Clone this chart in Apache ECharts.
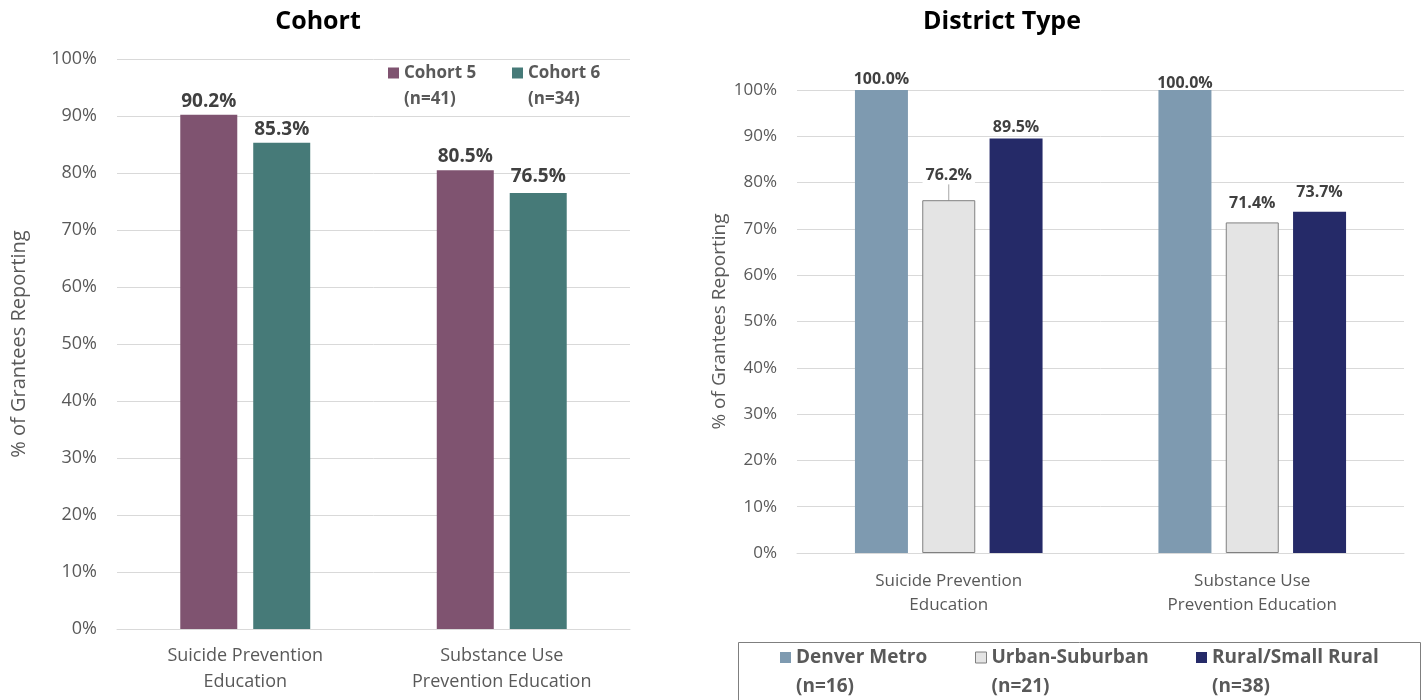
<!DOCTYPE html>
<html>
<head>
<meta charset="utf-8">
<script src="https://cdn.jsdelivr.net/npm/echarts@6/dist/echarts.min.js"></script>
<style>
  html, body { margin: 0; padding: 0; background: #ffffff; }
  #chart { width: 1424px; height: 700px; }
</style>
</head>
<body>
<div id="chart"></div>
<script>
// Shared categories
const categories = ['Suicide Prevention\nEducation', 'Substance Use\nPrevention Education'];

// Cohort panel
const cohortNames = ['Cohort 5', 'Cohort 6'];
const cohortN = ['(n=41)', '(n=34)'];
const cohort5 = [90.2, 80.5];
const cohort6 = [85.3, 76.5];

// District type panel
const districtNames = ['Denver Metro', 'Urban-Suburban', 'Rural/Small Rural'];
const districtN = ['(n=16)', '(n=21)', '(n=38)'];
const denverMetro = [100.0, 100.0];
const urbanSuburban = [76.2, 71.4];
const ruralSmall = [89.5, 73.7];

// Y axis ticks
const yTicks = [0, 10, 20, 30, 40, 50, 60, 70, 80, 90, 100];

const FONT = '"Open Sans", "Noto Sans", sans-serif';
const nLookup = {};
cohortNames.forEach((n, i) => { nLookup[n] = cohortN[i]; });
districtNames.forEach((n, i) => { nLookup[n] = districtN[i]; });

// Legend entry with a two-line caption; the leading blank line keeps the
// swatch level with the first caption line.
function legendFor(name, left, top, size, lh, stroke) {
  return {
    data: [{ name: name, icon: 'rect',
      itemStyle: stroke ? { borderColor: stroke, borderWidth: 1 } : undefined }],
    left: left, top: top,
    itemWidth: 11, itemHeight: 11, itemGap: 0, padding: 0,
    selectedMode: false,
    formatter: n => '\n' + n + '\n' + nLookup[n],
    textStyle: { fontFamily: FONT, fontSize: size, fontWeight: 'bold', color: '#595959', lineHeight: lh }
  };
}

function yAxisFor(gridIndex, nameGap, nameSize, fontSize) {
  return {
    type: 'value', gridIndex: gridIndex, min: 0, max: 100, interval: 10,
    name: '% of Grantees Reporting', nameLocation: 'middle', nameGap: nameGap,
    nameTextStyle: { fontFamily: FONT, fontSize: nameSize, color: '#595959' },
    axisLine: { show: false }, axisTick: { show: false },
    axisLabel: { fontFamily: FONT, fontSize: fontSize, color: '#595959', margin: 20,
      formatter: v => yTicks.indexOf(v) >= 0 ? v + '%' : '' },
    splitLine: { lineStyle: { color: '#d9d9d9', width: 1 } }
  };
}

function xAxisFor(gridIndex, fontSize, lh, margin) {
  return {
    type: 'category', gridIndex: gridIndex, data: categories,
    axisTick: { show: false },
    axisLine: { lineStyle: { color: '#d9d9d9', width: 1 } },
    axisLabel: { fontFamily: FONT, fontSize: fontSize, color: '#595959', lineHeight: lh, margin: margin }
  };
}

function labelStyle(size, distance) {
  return { show: true, position: 'top', distance: distance, fontFamily: FONT, fontSize: size,
    fontWeight: 'bold', color: '#404040', formatter: p => p.value.toFixed(1) + '%' };
}

// Value arrays -> bar data, with optional per-bar label gap above the bar
function withGaps(values, gaps) {
  return values.map((v, i) => gaps && gaps[i] != null
    ? { value: v, label: { distance: gaps[i] } } : v);
}

const chart = echarts.init(document.getElementById('chart'), null, { renderer: 'canvas' });

chart.setOption({
  animation: false,
  backgroundColor: '#ffffff',
  title: [
    { text: 'Cohort', left: 313, top: 4, textAlign: 'center',
      textStyle: { fontFamily: FONT, fontSize: 25, fontWeight: 'bold', color: '#000000' } },
    { text: 'District Type', left: 997, top: 4, textAlign: 'center',
      textStyle: { fontFamily: FONT, fontSize: 25, fontWeight: 'bold', color: '#000000' } }
  ],
  legend: [
    legendFor(cohortNames[0], 388, 34, 17, 26),
    legendFor(cohortNames[1], 512, 34, 17, 26),
    legendFor(districtNames[0], 780, 614, 19, 29),
    legendFor(districtNames[1], 975, 614, 19, 29, '#7f7f7f'),
    legendFor(districtNames[2], 1196, 614, 19, 29)
  ],
  graphic: [
    { type: 'rect', left: 736, top: 640, shape: { width: 682, height: 80 },
      style: { fill: 'none', stroke: '#7f7f7f', lineWidth: 1 }, z: -1 }
  ],
  grid: [
    { left: 117, right: 794, top: 59, bottom: 71 },
    { left: 797, right: 20, top: 90, bottom: 147 }
  ],
  xAxis: [ xAxisFor(0, 18, 26, 14), xAxisFor(1, 17, 24, 16) ],
  yAxis: [ yAxisFor(0, 88, 20, 18), yAxisFor(1, 68, 19, 17) ],
  series: [
    { name: cohortNames[0], type: 'bar', xAxisIndex: 0, yAxisIndex: 0, data: cohort5,
      barWidth: 57, barGap: '28%', itemStyle: { color: '#7f5370' }, label: labelStyle(19, 4) },
    { name: cohortNames[1], type: 'bar', xAxisIndex: 0, yAxisIndex: 0, data: withGaps(cohort6, [null, 7]),
      barWidth: 57, barGap: '28%', itemStyle: { color: '#467a78' }, label: labelStyle(19, 4) },
    { name: districtNames[0], type: 'bar', xAxisIndex: 1, yAxisIndex: 1, data: withGaps(denverMetro, [null, -1]),
      barWidth: 53, barGap: '27%', itemStyle: { color: '#7e9ab0' }, label: labelStyle(16, 3) },
    { name: districtNames[1], type: 'bar', xAxisIndex: 1, yAxisIndex: 1,
      data: urbanSuburban.map((v, i) => i === 0
        ? { value: v, label: { backgroundColor: '#ffffff', padding: [1, 3] }, labelLine: { show: true } }
        : { value: v, label: { distance: 11 } }),
      barWidth: 53, barGap: '27%', itemStyle: { color: '#e4e4e4', borderColor: '#808080', borderWidth: 1 },
      label: labelStyle(16, 3),
      labelLayout: p => p.dataIndex === 0 ? { dy: -13 } : {},
      labelLine: { show: false, lineStyle: { color: '#a6a6a6', width: 1 } } },
    { name: districtNames[2], type: 'bar', xAxisIndex: 1, yAxisIndex: 1, data: withGaps(ruralSmall, [null, 11]),
      barWidth: 53, barGap: '27%', itemStyle: { color: '#252a68' }, label: labelStyle(16, 3) }
  ]
});
</script>
</body>
</html>
